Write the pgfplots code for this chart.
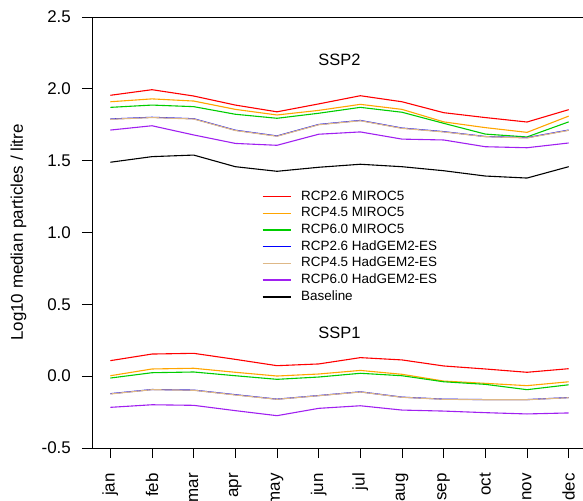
\documentclass[border=0pt]{standalone}
\usepackage{pgfplots}
\pgfplotsset{compat=1.18}
\usepackage{pgfplotstable}
\usepackage{fontspec}
\setmainfont{Liberation Sans}
\usetikzlibrary{calc}
\definecolor{cRed}{RGB}{255,0,0}
\definecolor{cOrange}{RGB}{255,165,0}
\definecolor{cGreen}{RGB}{0,205,0}
\definecolor{cBlue}{RGB}{0,0,255}
\definecolor{cTan}{RGB}{222,184,135}
\definecolor{cPurple}{RGB}{160,32,240}

\pgfplotstableread{
m ssptwo sspone
1 1.955 0.108
2 1.994 0.154
3 1.950 0.159
4 1.887 0.117
5 1.840 0.073
6 1.895 0.085
7 1.952 0.129
8 1.910 0.113
9 1.834 0.071
10 1.800 0.050
11 1.769 0.027
12 1.855 0.052
}\tRed
\pgfplotstableread{
m ssptwo sspone
1 1.910 0.003
2 1.930 0.050
3 1.915 0.055
4 1.857 0.027
5 1.818 0.001
6 1.850 0.015
7 1.892 0.040
8 1.857 0.013
9 1.770 -0.034
10 1.730 -0.050
11 1.697 -0.066
12 1.810 -0.039
}\tOrange
\pgfplotstableread{
m ssptwo sspone
1 1.871 -0.013
2 1.887 0.024
3 1.876 0.029
4 1.823 0.003
5 1.795 -0.022
6 1.830 -0.006
7 1.871 0.020
8 1.837 0.003
9 1.760 -0.039
10 1.685 -0.057
11 1.665 -0.094
12 1.770 -0.060
}\tGreen
\pgfplotstableread{
m ssptwo sspone
1 1.790 -0.122
2 1.802 -0.093
3 1.792 -0.097
4 1.712 -0.129
5 1.672 -0.160
6 1.752 -0.135
7 1.780 -0.109
8 1.727 -0.146
9 1.702 -0.160
10 1.668 -0.163
11 1.660 -0.163
12 1.713 -0.149
}\tBlue
\pgfplotstableread{
m ssptwo sspone
1 1.788 -0.124
2 1.800 -0.094
3 1.790 -0.098
4 1.710 -0.131
5 1.670 -0.161
6 1.750 -0.136
7 1.778 -0.110
8 1.725 -0.147
9 1.700 -0.161
10 1.667 -0.164
11 1.658 -0.164
12 1.711 -0.150
}\tTan
\pgfplotstableread{
m ssptwo sspone
1 1.713 -0.217
2 1.743 -0.199
3 1.679 -0.203
4 1.620 -0.240
5 1.607 -0.275
6 1.684 -0.224
7 1.700 -0.206
8 1.650 -0.236
9 1.644 -0.243
10 1.597 -0.254
11 1.590 -0.263
12 1.623 -0.256
}\tPurple
\pgfplotstableread{
m ssptwo
1 1.489
2 1.528
3 1.539
4 1.458
5 1.426
6 1.454
7 1.475
8 1.458
9 1.430
10 1.393
11 1.379
12 1.458
}\tBlack

\begin{document}
\begin{tikzpicture}
\begin{axis}[
  scale only axis,
  width=495bp, height=431bp,
  xmin=0.56, xmax=12.44,
  ymin=-0.5, ymax=2.5,
  axis line style={line width=0.9bp},
  tick style={line width=0.9bp, black},
  tick align=outside,
  major tick length=10bp,
  xtick pos=bottom, ytick pos=left,
  xtick={1,...,12},
  xticklabels={jan,feb,mar,apr,may,jun,jul,aug,sep,oct,nov,dec},
  ytick={-0.5,0,0.5,1,1.5,2,2.5},
  yticklabels={-0.5,0.0,0.5,1.0,1.5,2.0,2.5},
  tick label style={font=\fontsize{17}{20}\selectfont},
  xticklabel style={yshift=-15bp, rotate=90, anchor=east, inner sep=0pt},
  yticklabel style={xshift=-11bp, anchor=east, inner sep=0pt},
  every axis y label/.style={at={(axis description cs:-0.1485,0.5)}, rotate=90, anchor=center},
  ylabel={Log10 median particles / litre},
  label style={font=\fontsize{17}{20}\selectfont},
  legend style={draw=none, fill=none, at={(rel axis cs:0.3434,0.6027)}, anchor=north west,
    inner sep=0pt, outer sep=0pt, font=\fontsize{13.5}{16}\selectfont,
    nodes={text height=10bp, text depth=3bp, inner sep=1.85bp}},
  legend cell align=left,
  legend image code/.code={\draw[#1, line width=1.5bp] (0bp,0bp) -- (28bp,0bp); \path (36bp,0bp);},
  every axis plot/.append style={line width=1.1bp},
  clip=false,
]
\addplot[cRed] table[x=m,y=ssptwo] {\tRed};
\addlegendentry{RCP2.6 MIROC5}
\addplot[cOrange] table[x=m,y=ssptwo] {\tOrange};
\addlegendentry{RCP4.5 MIROC5}
\addplot[cGreen] table[x=m,y=ssptwo] {\tGreen};
\addlegendentry{RCP6.0 MIROC5}
\addplot[cBlue] table[x=m,y=ssptwo] {\tBlue};
\addlegendentry{RCP2.6 HadGEM2-ES}
\addplot[cTan] table[x=m,y=ssptwo] {\tTan};
\addlegendentry{RCP4.5 HadGEM2-ES}
\addplot[cPurple] table[x=m,y=ssptwo] {\tPurple};
\addlegendentry{RCP6.0 HadGEM2-ES}
\addplot[black] table[x=m,y=ssptwo] {\tBlack};
\addlegendentry{Baseline}
\addplot[cRed, forget plot] table[x=m,y=sspone] {\tRed};
\addplot[cOrange, forget plot] table[x=m,y=sspone] {\tOrange};
\addplot[cGreen, forget plot] table[x=m,y=sspone] {\tGreen};
\addplot[cBlue, forget plot] table[x=m,y=sspone] {\tBlue};
\addplot[cTan, forget plot] table[x=m,y=sspone] {\tTan};
\addplot[cPurple, forget plot] table[x=m,y=sspone] {\tPurple};
\node[font=\fontsize{16.5}{20}\selectfont] at (axis cs:6.5,2.2) {SSP2};
\node[font=\fontsize{16.5}{20}\selectfont] at (axis cs:6.5,0.3) {SSP1};
\coordinate (SW) at (rel axis cs:0,0);
\coordinate (NE) at (rel axis cs:1,1);
\end{axis}
\pgfresetboundingbox
\useasboundingbox ($(SW)+(-92bp,-53bp)$) rectangle ($(SW|-NE)+(491bp,17bp)$);
\end{tikzpicture}
\end{document}
